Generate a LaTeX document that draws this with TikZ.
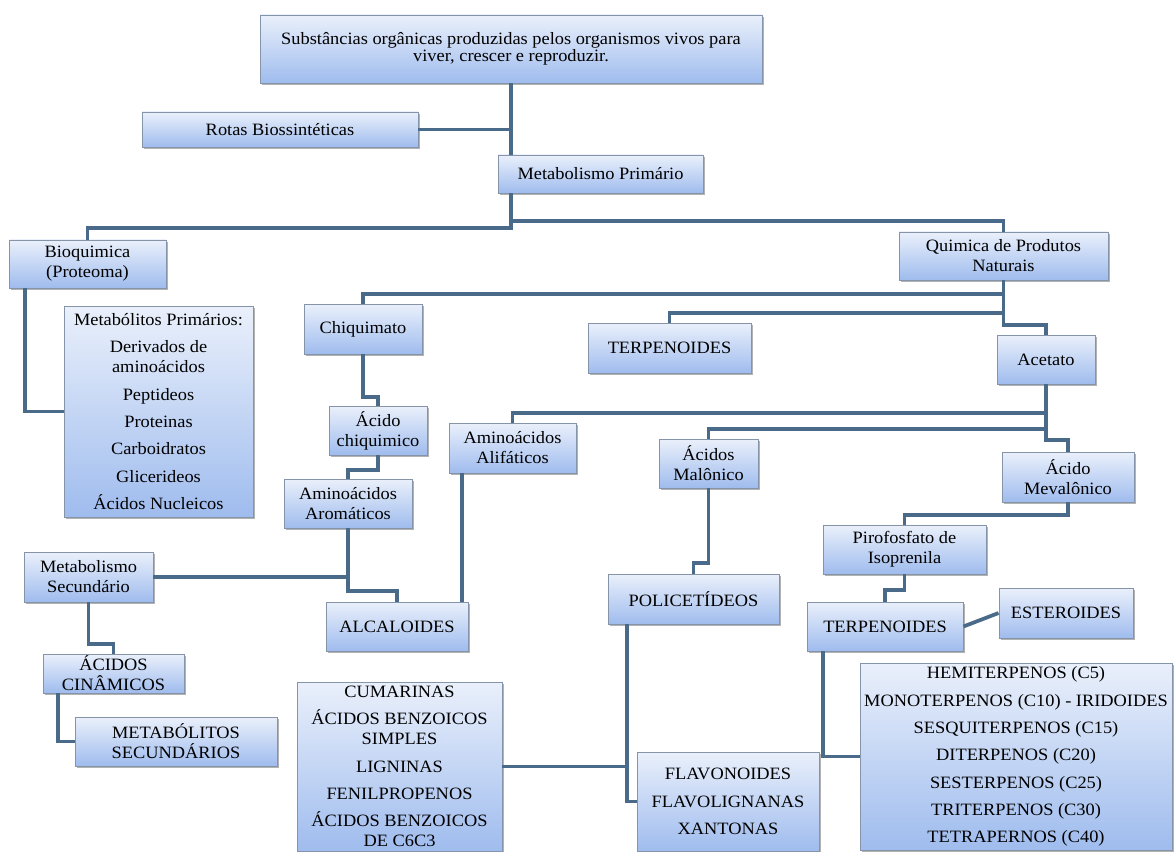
\documentclass[tikz,border=0pt]{standalone}
\usepackage{fontspec}
\setmainfont{Liberation Serif}[FakeStretch=1.06]
\usetikzlibrary{shadows}

\definecolor{linha}{HTML}{4A6A8A}
\definecolor{claro}{HTML}{EAF0FB}
\definecolor{azul}{HTML}{9FBCEE}
\definecolor{borda}{HTML}{8594A8}

\tikzset{
  caixa/.style={draw=borda, line width=0.7pt, top color=claro, bottom color=azul,
    inner sep=0pt, align=center, font=\fontsize{13}{15}\selectfont,
    drop shadow={shadow xshift=1.2pt, shadow yshift=-1.5pt, opacity=.5, fill=black!60}},
  sz/.style 2 args={minimum width=#1*0.75pt, minimum height=#2*0.75pt},
  liga/.style={draw=linha, line width=2.8pt},
}

\begin{document}
\begin{tikzpicture}[x=0.75pt, y=-0.75pt]
  \fill[white] (0,0) rectangle (1174,852);
  \useasboundingbox (0,0) rectangle (1174,852);

  % caixas
  \node[caixa, sz={502}{68}] (topo) at (511,49) {Substâncias orgânicas produzidas pelos organismos vivos para\\[-2.2pt] viver, crescer e reproduzir.};
  \node[caixa, sz={276}{35}] (rotas) at (280,129.5) {Rotas Biossintéticas};
  \node[caixa, sz={205}{38}] (mprim) at (600.5,174) {Metabolismo Primário};
  \node[caixa, sz={157}{48}] (bioq) at (87.5,264) {Bioquimica\\(Proteoma)};
  \node[caixa, sz={209}{48}] (qpn) at (1003.5,256) {Quimica de Produtos\\Naturais};
  \node[caixa, sz={189}{211}] (mplist) at (158.5,411.5) {Metabólitos Primários:\\[5.5pt] Derivados de\\aminoácidos\\[5.5pt] Peptideos\\[5.5pt] Proteinas\\[5.5pt] Carboidratos\\[5.5pt] Glicerideos\\[5.5pt] Ácidos Nucleicos};
  \node[caixa, sz={118}{50}] (chiq) at (363,329) {Chiquimato};
  \node[caixa, sz={163}{50}] (terpA) at (669.5,348) {TERPENOIDES};
  \node[caixa, sz={98}{49}] (acet) at (1046,359.5) {Acetato};
  \node[caixa, sz={98}{49}] (achiq) at (378,430.5) {Ácido\\chiquimico};
  \node[caixa, sz={127}{50}] (aalif) at (512.5,448) {Aminoácidos\\Alifáticos};
  \node[caixa, sz={99}{49}] (malon) at (708.5,463.5) {Ácidos\\Malônico};
  \node[caixa, sz={132}{50}] (meval) at (1068,477) {Ácido\\Mevalônico};
  \node[caixa, sz={128}{49}] (aarom) at (348,503.5) {Aminoácidos\\Aromáticos};
  \node[caixa, sz={163}{49}] (pirof) at (904.5,549.5) {Pirofosfato de\\Isoprenila};
  \node[caixa, sz={129}{50}] (msec) at (88.5,577) {Metabolismo\\Secundário};
  \node[caixa, sz={171}{50}] (polic) at (693.5,599) {POLICETÍDEOS};
  \node[caixa, sz={142}{49}] (alcal) at (397,626.5) {ALCALOIDES};
  \node[caixa, sz={156}{49}] (terpB) at (885,626.5) {TERPENOIDES};
  \node[caixa, sz={134}{50}] (ester) at (1066,613) {ESTEROIDES};
  \node[caixa, sz={141}{39}] (acin) at (113.5,673.5) {ÁCIDOS\\CINÂMICOS};
  \node[caixa, sz={312}{187}] (tplist) at (1016,756.5) {HEMITERPENOS (C5)\\[5.5pt] MONOTERPENOS (C10) - IRIDOIDES\\[5.5pt] SESQUITERPENOS (C15)\\[5.5pt] DITERPENOS (C20)\\[5.5pt] SESTERPENOS (C25)\\[5.5pt] TRITERPENOS (C30)\\[5.5pt] TETRAPERNOS (C40)};
  \node[caixa, sz={205}{169}] (cumar) at (399.5,766.5) {CUMARINAS\\[5.5pt] ÁCIDOS BENZOICOS\\SIMPLES\\[5.5pt] LIGNINAS\\[5.5pt] FENILPROPENOS\\[5.5pt] ÁCIDOS BENZOICOS\\DE C6C3};
  \node[caixa, sz={202}{49}] (mslist) at (176,741.5) {METABÓLITOS\\SECUNDÁRIOS};
  \node[caixa, sz={182}{99}] (flav) at (728,801.5) {FLAVONOIDES\\[5.5pt] FLAVOLIGNANAS\\[5.5pt] XANTONAS};

  % ligacoes
  \coordinate (v1) at (25,0);
  \coordinate (v2) at (462,0);
  \coordinate (v3) at (823,0);
  \coordinate (v4) at (627,0);
  \coordinate (v5) at (58,0);

  \draw[liga] (topo.south) -- (topo.south |- mprim.north);
  \draw[liga] (rotas.east) -- (rotas.east -| topo.south);
  \draw[liga] (topo.south |- mprim.south) -- (topo.south |- 0,228) -| (bioq.north);
  \draw[liga] (topo.south |- 0,221) -| (qpn.north);
  \draw[liga] (bioq.south -| v1) |- (mplist.west);
  \draw[liga] (qpn.south) -- (qpn.south |- 0,325) -| (acet.north);
  \draw[liga] (qpn.south |- 0,294) -| (chiq.north);
  \draw[liga] (qpn.south |- 0,313) -| (terpA.north);
  \draw[liga] (chiq.south) -- (chiq.south |- 0,397) -| (achiq.north);
  \draw[liga] (achiq.south) -- (achiq.south |- 0,470) -| (aarom.north);
  \draw[liga] (aarom.south) -- (aarom.south |- 0,591) -| (alcal.north);
  \draw[liga] (msec.east) -- (msec.east -| aarom.south);
  \draw[liga] (acet.south) -- (acet.south |- 0,440) -| (meval.north);
  \draw[liga] (acet.south |- 0,413) -| (aalif.north);
  \draw[liga] (acet.south |- 0,429) -| (malon.north);
  \draw[liga] (aalif.south -| v2) -- (alcal.north -| v2);
  \draw[liga] (malon.south) -- (malon.south |- 0,563) -| (polic.north);
  \draw[liga] (meval.south) -- (meval.south |- 0,515) -| (pirof.north);
  \draw[liga] (pirof.south) -- (pirof.south |- 0,590) -| (terpB.north);
  \draw[liga] (terpB.east) -- (ester.west);
  \draw[liga] (terpB.south -| v3) |- (tplist.west);
  \draw[liga] (polic.south -| v4) |- (flav.west);
  \draw[liga] (cumar.east) -- (cumar.east -| v4);
  \draw[liga] (msec.south) -- (msec.south |- 0,644) -| (acin.north);
  \draw[liga] (acin.south -| v5) |- (mslist.west);
\end{tikzpicture}
\end{document}
